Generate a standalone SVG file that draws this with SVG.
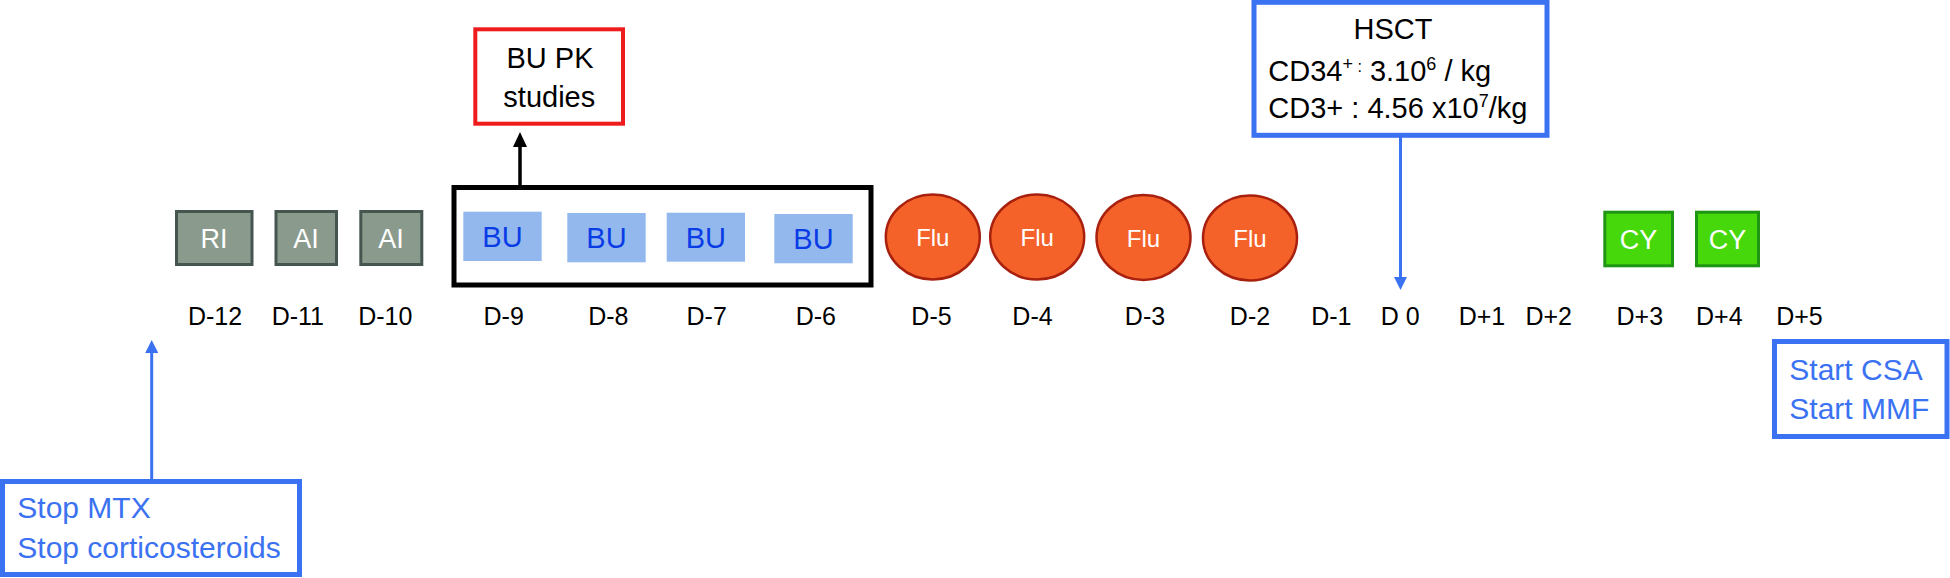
<svg xmlns="http://www.w3.org/2000/svg" width="1950" height="578" viewBox="0 0 1950 578">
<defs>
<style>
text{font-family:"Liberation Sans",Arial,sans-serif}
.day{font-size:25px;fill:#000;text-anchor:middle}
.gray{fill:#8a9b8d;stroke:#44564f;stroke-width:3}
.gtxt{font-size:27px;fill:#fff;text-anchor:middle}
.bu{fill:#93b8ee}
.butxt{font-size:29px;fill:#0a3ce6;text-anchor:middle}
.flu{fill:#f4622a;stroke:#a8200e;stroke-width:2.5}
.flutxt{font-size:24px;fill:#fff;text-anchor:middle}
.cy{fill:#46d80a;stroke:#1e9614;stroke-width:3}
.cytxt{font-size:27px;fill:#fff;text-anchor:middle}
.bluebox{fill:#fff;stroke:#3b72f2;stroke-width:5}
.bluetxt{font-size:30px;fill:#3b72f2}
.blktxt{font-size:29px;fill:#000}
.conn-blue{stroke:#3b72f2;stroke-width:3;fill:none}
.conn-black{stroke:#000;stroke-width:3.5;fill:none}
</style>
<marker id="arrBlue" markerUnits="userSpaceOnUse" markerWidth="13" markerHeight="13" viewBox="0 0 13 13" refX="0" refY="6.5" orient="auto">
<path d="M0,0 L13,6.5 L0,13 Z" fill="#3b72f2"/>
</marker>
<marker id="arrBlack" markerUnits="userSpaceOnUse" markerWidth="15" markerHeight="14" viewBox="0 0 15 14" refX="0" refY="7" orient="auto">
<path d="M0,0 L15,7 L0,14 Z" fill="#000"/>
</marker>
</defs>
<rect width="1950" height="578" fill="#fff"/>

<g id="connectors">
<line class="conn-black" x1="520" y1="185" x2="520" y2="147" marker-end="url(#arrBlack)"/>
<line class="conn-blue" x1="1400.5" y1="137" x2="1400.5" y2="277" marker-end="url(#arrBlue)"/>
<line class="conn-blue" x1="151.7" y1="479" x2="151.7" y2="353" marker-end="url(#arrBlue)"/>
</g>

<g id="ri-d12"><rect class="gray" x="176.5" y="211.5" width="75.5" height="53"/><text class="gtxt" x="214" y="248">RI</text></g>
<g id="ai-d11"><rect class="gray" x="276" y="211.5" width="60.5" height="53"/><text class="gtxt" x="306" y="248">AI</text></g>
<g id="ai-d10"><rect class="gray" x="360.8" y="211.5" width="61" height="53"/><text class="gtxt" x="391" y="248">AI</text></g>

<g id="bu-group"><rect x="454" y="187.5" width="417" height="97.5" fill="none" stroke="#000" stroke-width="5"/></g>
<g id="bu-d9"><rect class="bu" x="463.3" y="211.7" width="78.4" height="49.3"/><text class="butxt" x="502.5" y="246.5">BU</text></g>
<g id="bu-d8"><rect class="bu" x="567.3" y="213" width="78.4" height="49.3"/><text class="butxt" x="606.5" y="247.5">BU</text></g>
<g id="bu-d7"><rect class="bu" x="666.7" y="212.7" width="78.3" height="49"/><text class="butxt" x="705.8" y="247.5">BU</text></g>
<g id="bu-d6"><rect class="bu" x="774.3" y="214" width="78.4" height="49.3"/><text class="butxt" x="813.5" y="248.5">BU</text></g>

<g id="flu-d5"><ellipse class="flu" cx="932.8" cy="237" rx="47" ry="42.5"/><text class="flutxt" x="932.8" y="246">Flu</text></g>
<g id="flu-d4"><ellipse class="flu" cx="1037.2" cy="237" rx="47" ry="42.5"/><text class="flutxt" x="1037.2" y="246">Flu</text></g>
<g id="flu-d3"><ellipse class="flu" cx="1143.5" cy="237.5" rx="47" ry="42.5"/><text class="flutxt" x="1143.5" y="246.5">Flu</text></g>
<g id="flu-d2"><ellipse class="flu" cx="1250" cy="238" rx="47" ry="42.5"/><text class="flutxt" x="1250" y="247">Flu</text></g>

<g id="cy-d3"><rect class="cy" x="1604.8" y="212.2" width="67.7" height="53.6"/><text class="cytxt" x="1638.6" y="248.5">CY</text></g>
<g id="cy-d4"><rect class="cy" x="1696.5" y="212.2" width="62" height="53.6"/><text class="cytxt" x="1727.5" y="248.5">CY</text></g>

<g id="bu-pk">
<rect x="475.3" y="29.3" width="147.7" height="94.4" fill="#fff" stroke="#ee1c1c" stroke-width="4"/>
<text class="blktxt" x="550" y="67.7" text-anchor="middle">BU PK</text>
<text class="blktxt" x="549.3" y="106.7" text-anchor="middle">studies</text>
</g>

<g id="hsct">
<rect class="bluebox" x="1254" y="2.3" width="293" height="133"/>
<text class="blktxt" x="1393" y="39.3" text-anchor="middle">HSCT</text>
<text class="blktxt" x="1268.3" y="81">CD34<tspan font-size="18" dy="-11">+</tspan><tspan font-size="16" dy="2"> :</tspan><tspan dy="9"> 3.10</tspan><tspan font-size="18" dy="-11">6</tspan><tspan dy="11"> / kg</tspan></text>
<text class="blktxt" x="1268.3" y="118.3">CD3+ : 4.56 x10<tspan font-size="18" dy="-11">7</tspan><tspan dy="11">/kg</tspan></text>
</g>

<g id="stop">
<rect class="bluebox" x="2.5" y="481.5" width="297" height="93"/>
<text class="bluetxt" x="17.3" y="518.3">Stop MTX</text>
<text class="bluetxt" x="17.3" y="558.3">Stop corticosteroids</text>
</g>

<g id="start">
<rect class="bluebox" x="1774.5" y="341.5" width="172.5" height="95"/>
<text class="bluetxt" x="1789.3" y="380">Start CSA</text>
<text class="bluetxt" x="1789.3" y="419">Start MMF</text>
</g>

<g id="day-labels">
<text class="day" x="215" y="325">D-12</text>
<text class="day" x="297.8" y="325">D-11</text>
<text class="day" x="385.3" y="325">D-10</text>
<text class="day" x="503.7" y="325">D-9</text>
<text class="day" x="608.3" y="325">D-8</text>
<text class="day" x="706.7" y="325">D-7</text>
<text class="day" x="815.8" y="325">D-6</text>
<text class="day" x="931.5" y="325">D-5</text>
<text class="day" x="1032.5" y="325">D-4</text>
<text class="day" x="1145" y="325">D-3</text>
<text class="day" x="1250" y="325">D-2</text>
<text class="day" x="1331.3" y="325">D-1</text>
<text class="day" x="1400.3" y="325">D 0</text>
<text class="day" x="1482" y="325">D+1</text>
<text class="day" x="1548.7" y="325">D+2</text>
<text class="day" x="1639.8" y="325">D+3</text>
<text class="day" x="1719.3" y="325">D+4</text>
<text class="day" x="1799.5" y="325">D+5</text>
</g>
</svg>
